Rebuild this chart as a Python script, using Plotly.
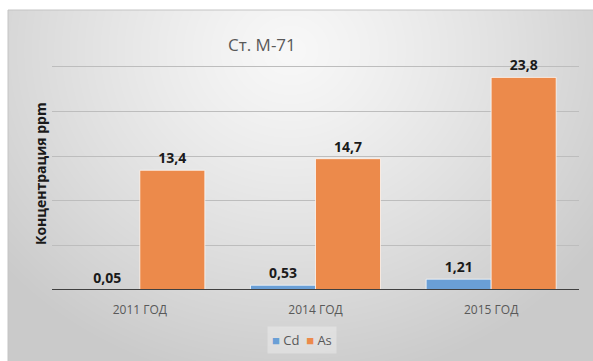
import base64
import struct
import zlib

import numpy as np
import plotly.graph_objects as go

# Data
years = ["2011 ГОД", "2014 ГОД", "2015 ГОД"]
cd_values = [0.05, 0.53, 1.21]
as_values = [13.4, 14.7, 23.8]
cd_labels = ["0,05", "0,53", "1,21"]
as_labels = ["13,4", "14,7", "23,8"]
series_names = ["Cd", "As"]
series_colors = ["#6A9FD6", "#EC8A4B"]
y_grid = [5, 10, 15, 20, 25]

W, H = 593, 361
ML, MR, MT, MB = 52, 14, 64, 71
PW, PH = W - ML - MR, H - MT - MB


def to_px_x(px):
    return (px - ML) / PW


def to_px_y(py):
    return (H - MB - py) / PH


def png_data_uri(rgb):
    h, w, _ = rgb.shape
    raw = b"".join(b"\x00" + rgb[r].tobytes() for r in range(h))

    def chunk(tag, data):
        c = struct.pack(">I", len(data)) + tag + data
        return c + struct.pack(">I", zlib.crc32(tag + data) & 0xFFFFFFFF)

    data = (b"\x89PNG\r\n\x1a\n"
            + chunk(b"IHDR", struct.pack(">IIBBBBB", w, h, 8, 2, 0, 0, 0))
            + chunk(b"IDAT", zlib.compress(raw, 9))
            + chunk(b"IEND", b""))
    return "data:image/png;base64," + base64.b64encode(data).decode()


# Radial gradient for the chart area background
bx0, by0 = 8, 10
bw, bh = W - bx0, H - by0
yy, xx = np.mgrid[0:bh, 0:bw].astype(float)
cx, cy = 290 - bx0, 50 - by0
d = np.sqrt(((xx - cx) / 380.0) ** 2 + ((yy - cy) / 340.0) ** 2)
d = np.clip(d, 0, 1)
val = 248 - (248 - 202) * d ** 1.2
grad = np.repeat(val[:, :, None], 3, axis=2).astype(np.uint8)
bg_src = png_data_uri(grad)

fig = go.Figure()
for name, vals, labels, color in zip(series_names, [cd_values, as_values],
                                     [cd_labels, as_labels], series_colors):
    fig.add_trace(go.Bar(
        x=years, y=vals, name=name, text=labels,
        marker=dict(color=color, line=dict(color="rgba(255,255,255,0.7)", width=1)),
    ))
fig.update_traces(
    textposition="outside", cliponaxis=False,
    textfont=dict(family="Open Sans", size=14, color="#1a1a1a", weight="bold"),
)

legend_text = "  ".join(
    f"<span style='color:{c}'>■</span> {n}" for n, c in zip(series_names, series_colors)
)

fig.update_layout(
    width=W, height=H,
    margin=dict(l=ML, r=MR, t=MT, b=MB),
    paper_bgcolor="white",
    plot_bgcolor="rgba(0,0,0,0)",
    barmode="group", bargap=0.26, bargroupgap=0,
    font=dict(family="Open Sans", color="#595959"),
    showlegend=False,
    xaxis=dict(
        showgrid=False, zeroline=False, showline=False,
        ticks="", ticklabelstandoff=11, tickfont=dict(size=12, color="#595959"),
    ),
    yaxis=dict(
        range=[0, 25.3], tickvals=y_grid, showticklabels=False,
        gridcolor="#bdbdbd", gridwidth=1,
        zeroline=False, showline=False, ticks="",
    ),
    images=[dict(
        source=bg_src, xref="paper", yref="paper",
        x=to_px_x(bx0), y=to_px_y(by0),
        sizex=bw / PW, sizey=bh / PH,
        xanchor="left", yanchor="top", sizing="stretch", layer="below",
    )],
    shapes=[
        dict(type="rect", xref="paper", yref="paper",
             x0=to_px_x(bx0), x1=to_px_x(W + 2), y0=to_px_y(H + 2), y1=to_px_y(by0),
             line=dict(color="#c4c4c4", width=1), fillcolor="rgba(0,0,0,0)", layer="below"),
        dict(type="line", xref="paper", yref="y", x0=0, x1=1, y0=0, y1=0,
             line=dict(color="#404040", width=2)),
    ],
    annotations=[
        dict(text="Ст. М-71", xref="paper", yref="paper",
             x=to_px_x(262), y=to_px_y(44), xanchor="center", yanchor="middle",
             showarrow=False, font=dict(size=17, color="#595959")),
        dict(text="<b>Концентрация ppm</b>", xref="paper", yref="paper",
             x=to_px_x(40), y=to_px_y(174), xanchor="center", yanchor="middle",
             textangle=-90, showarrow=False, font=dict(size=14, color="#1a1a1a")),
        dict(text=legend_text, xref="paper", yref="paper",
             x=to_px_x(302), y=to_px_y(340), xanchor="center", yanchor="middle",
             showarrow=False, font=dict(size=13, color="#595959"),
             bgcolor="rgba(255,255,255,0.3)", borderpad=4),
    ],
)

fig.write_html("out.html")
